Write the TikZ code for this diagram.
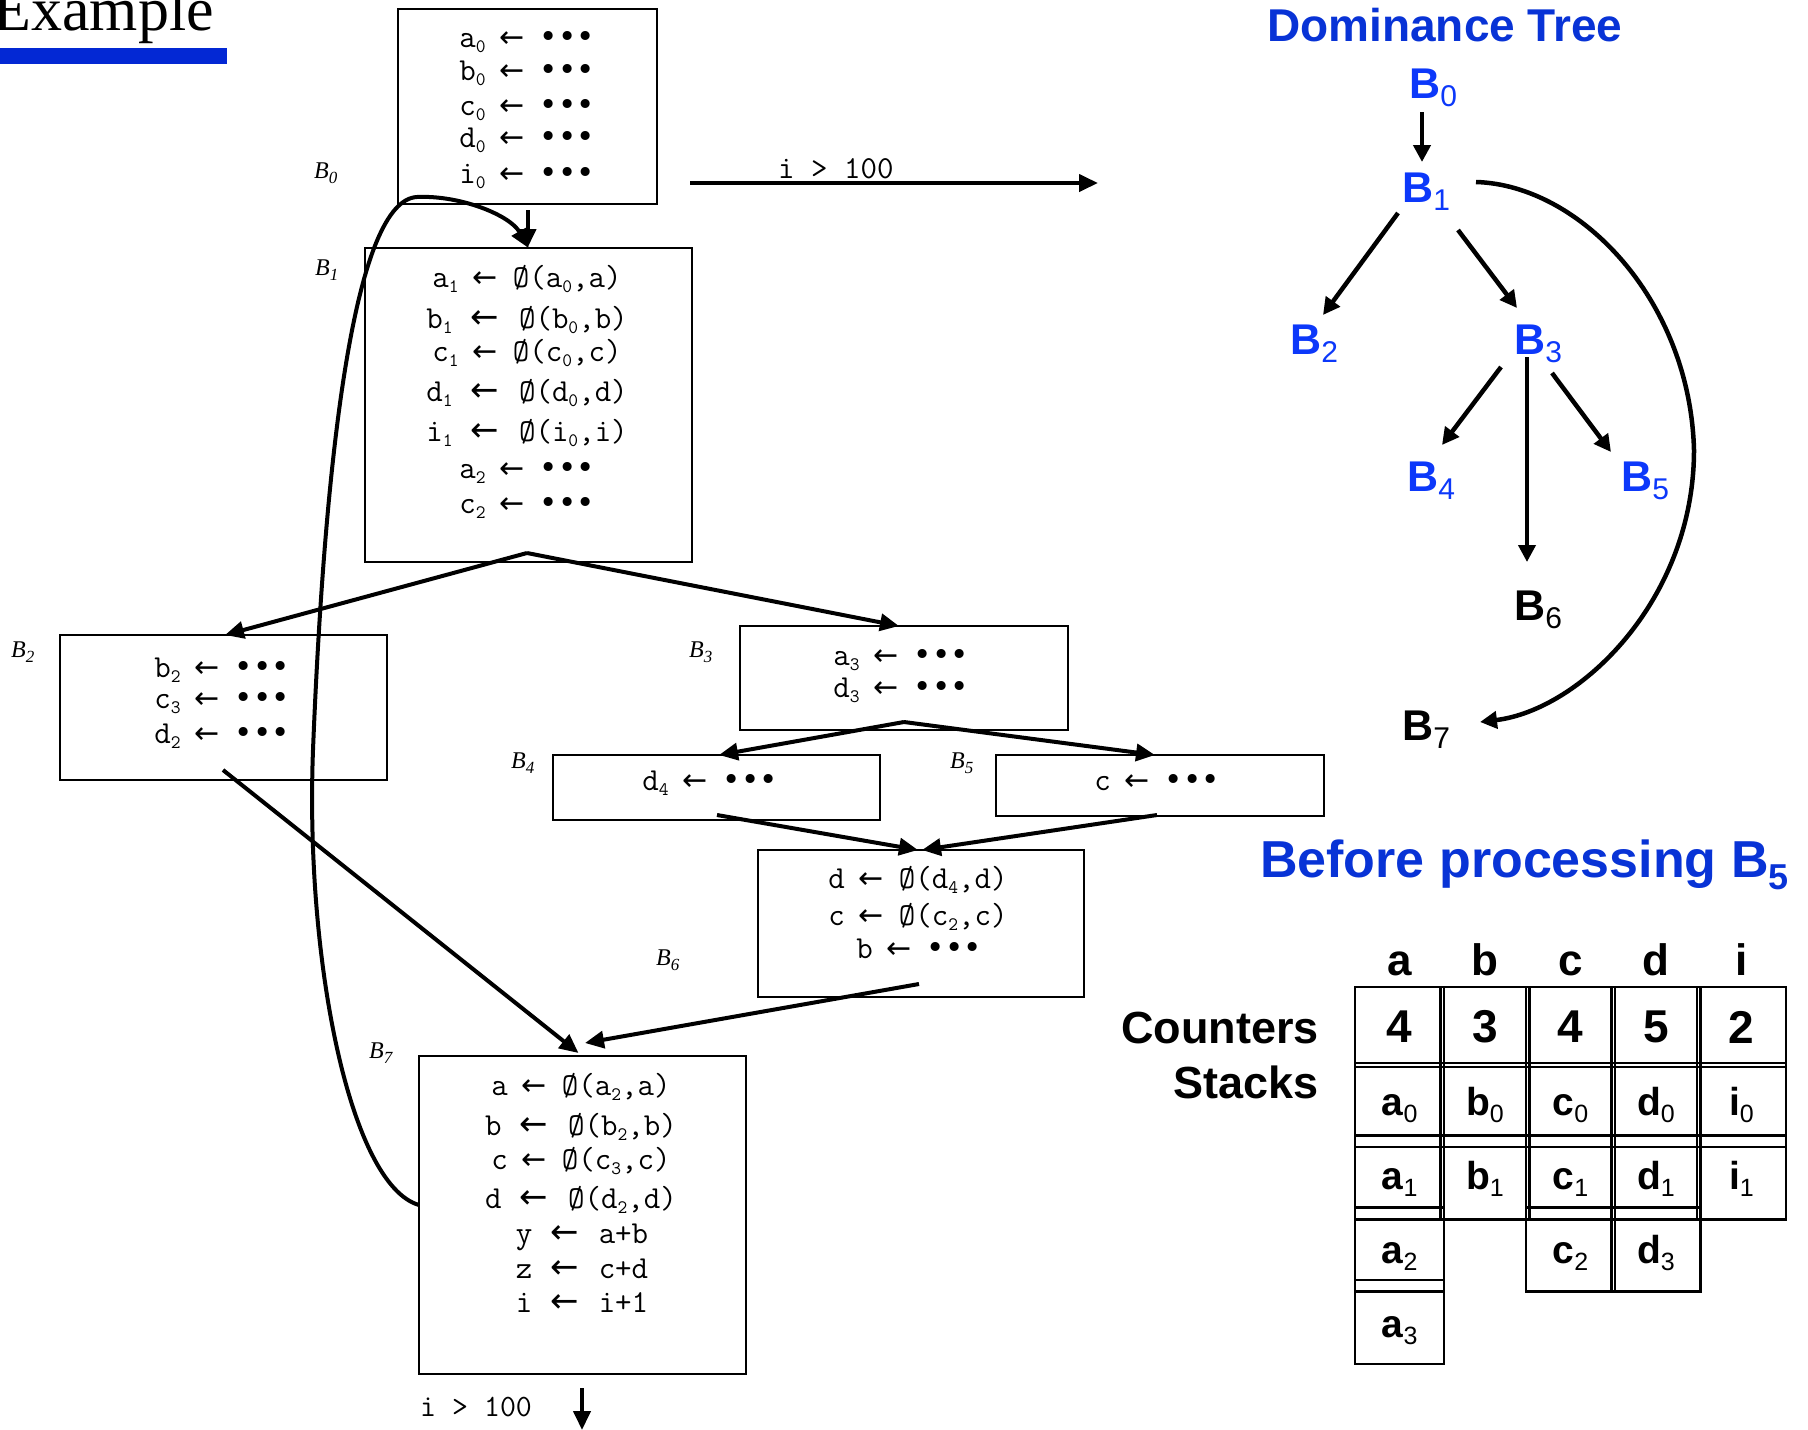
\documentclass[tikz,border=0pt]{standalone}
\usepackage{fontspec}
\setmainfont{Liberation Serif}
\setmonofont{Latin Modern Mono}
\newfontfamily\sansfont{Liberation Sans}
\newfontfamily\symfont{DejaVu Sans}
\usetikzlibrary{arrows.meta}

\definecolor{barblue}{RGB}{3,40,212}
\definecolor{headblue}{RGB}{8,51,214}
\definecolor{treeblue}{RGB}{12,56,250}

\newcommand\fsz[1]{\fontsize{#1}{#1}\selectfont}
% code lines: typewriter text, lowered small indices, arrows and dots
\newcommand\cfgix[1]{\raisebox{-5pt}{\fsz{19}#1}}
\newcommand\cfglar{{\symfont\fsz{30}←}}
\newcommand\cfgasg{\hspace{14pt}\cfglar\hspace{15pt}}
\newcommand\cfgasgw{\hspace{18pt}{\symfont\fsz{34}←}\hspace{20pt}}
\newcommand\cfgdots{{\symfont\fsz{31}•••}}
% italic block names beside the boxes
\newcommand\blkname[1]{\fsz{24}\itshape B\raisebox{-5pt}{\fsz{17}#1}}
% dominance tree names
\newcommand\dominame[1]{\sansfont\fsz{43}\textbf{B}\raisebox{-8pt}{\fsz{30}#1}}
% stack entries
\newcommand\stackent[2]{\sansfont\fsz{39}\textbf{#1}\raisebox{-7pt}{\fsz{25}#2}}

\tikzset{
  blockbox/.style={draw, line width=2.6pt, inner sep=0pt, outer sep=0pt},
  codeline/.style={anchor=base, inner sep=0pt, font=\ttfamily\fsz{32}},
  bname/.style={anchor=base west, inner sep=0pt},
  flow/.style={line width=4pt, -{Triangle[length=19pt,width=17pt]}},
  treearrow/.style={line width=4.5pt, -{Triangle[length=17pt,width=17pt]}},
  treename/.style={anchor=base west, inner sep=0pt},
  tcell/.style={draw, line width=2.8pt, minimum width=89pt, minimum height=84pt, inner sep=0pt},
  colhead/.style={anchor=base, inner sep=0pt, font=\sansfont\bfseries\fsz{44}},
}

\begin{document}
\begin{tikzpicture}[x=1pt,y=-1pt]
\useasboundingbox (0,0) rectangle (1808,1430);

% ---- heading ----
\node[anchor=base east, inner sep=0pt, font=\fsz{62}] (extitle) at (214,30) {Example};
\fill[barblue] (0,48) rectangle (227,64);

% ---- control flow graph: blocks ----
\node[blockbox, minimum width=259pt, minimum height=195pt] (b0) at (527.5,106.5) {};
\node[blockbox, minimum width=327pt, minimum height=314pt] (b1) at (528.5,405) {};
\node[blockbox, minimum width=327pt, minimum height=145pt] (b2) at (223.5,707.5) {};
\node[blockbox, minimum width=328pt, minimum height=104pt] (b3) at (904,678) {};
\node[blockbox, minimum width=327pt, minimum height=65pt] (b4) at (716.5,787.5) {};
\node[blockbox, minimum width=328pt, minimum height=61pt] (b5) at (1160,785.5) {};
\node[blockbox, minimum width=326pt, minimum height=147pt] (b6) at (921,923.5) {};
\node[blockbox, minimum width=327pt, minimum height=318pt] (b7) at (582.5,1215) {};

\node[bname] (n0) at (314,178) {\blkname{0}};
\node[bname] (n1) at (315,275) {\blkname{1}};
\node[bname] (n2) at (11,657) {\blkname{2}};
\node[bname] (n3) at (689,657) {\blkname{3}};
\node[bname] (n4) at (511,768) {\blkname{4}};
\node[bname] (n5) at (950,768) {\blkname{5}};
\node[bname] (n6) at (656,965) {\blkname{6}};
\node[bname] (n7) at (369,1058) {\blkname{7}};

% B0
\node[codeline] (b0l1) at (527,47)  {a\cfgix{0}\cfgasg\cfgdots};
\node[codeline] (b0l2) at (527,80)  {b\cfgix{0}\cfgasg\cfgdots};
\node[codeline] (b0l3) at (527,115) {c\cfgix{0}\cfgasg\cfgdots};
\node[codeline] (b0l4) at (527,147) {d\cfgix{0}\cfgasg\cfgdots};
\node[codeline] (b0l5) at (527,183) {i\cfgix{0}\cfgasg\cfgdots};
% B1
\node[codeline] (b1l1) at (527,287) {a\cfgix{1}\cfgasg Ø(a\cfgix{0},a)};
\node[codeline] (b1l2) at (527,328) {b\cfgix{1}\cfgasgw Ø(b\cfgix{0},b)};
\node[codeline] (b1l3) at (527,361) {c\cfgix{1}\cfgasg Ø(c\cfgix{0},c)};
\node[codeline] (b1l4) at (527,401) {d\cfgix{1}\cfgasgw Ø(d\cfgix{0},d)};
\node[codeline] (b1l5) at (527,441) {i\cfgix{1}\cfgasgw Ø(i\cfgix{0},i)};
\node[codeline] (b1l6) at (527,478) {a\cfgix{2}\cfgasg\cfgdots};
\node[codeline] (b1l7) at (527,513) {c\cfgix{2}\cfgasg\cfgdots};
% B2
\node[codeline] (b2l1) at (222,677) {b\cfgix{2}\cfgasg\cfgdots};
\node[codeline] (b2l2) at (222,708) {c\cfgix{3}\cfgasg\cfgdots};
\node[codeline] (b2l3) at (222,743) {d\cfgix{2}\cfgasg\cfgdots};
% B3, B4, B5
\node[codeline] (b3l1) at (901,665) {a\cfgix{3}\cfgasg\cfgdots};
\node[codeline] (b3l2) at (901,697) {d\cfgix{3}\cfgasg\cfgdots};
\node[codeline] (b4l1) at (710,790) {d\cfgix{4}\cfgasg\cfgdots};
\node[codeline] (b5l1) at (1157,790) {c\cfgasg\cfgdots};
% B6
\node[codeline] (b6l1) at (918,888) {d\cfgasg Ø(d\cfgix{4},d)};
\node[codeline] (b6l2) at (918,925) {c\cfgasg Ø(c\cfgix{2},c)};
\node[codeline] (b6l3) at (919,958) {b\cfgasg\cfgdots};
% B7
\node[codeline] (b7l1) at (581,1095) {a\cfgasg Ø(a\cfgix{2},a)};
\node[codeline] (b7l2) at (581,1135) {b\cfgasgw Ø(b\cfgix{2},b)};
\node[codeline] (b7l3) at (581,1169) {c\cfgasg Ø(c\cfgix{3},c)};
\node[codeline] (b7l4) at (581,1208) {d\cfgasgw Ø(d\cfgix{2},d)};
\node[codeline] (b7l5) at (582,1243) {y\cfgasgw a+b};
\node[codeline] (b7l6) at (582,1278) {z\cfgasgw c+d};
\node[codeline] (b7l7) at (582,1312) {i\cfgasgw i+1};

% ---- control flow graph: edges ----
\draw[flow] ([yshift=-6pt]b0.south) -- (b0.south |- b1.north);
\coordinate (x0a) at (690,183);
\coordinate (x0b) at (1098,183);
\draw[flow] (x0a) -- (x0b);
\node[codeline, anchor=base west, font=\ttfamily\fsz{32}] (exit0) at (778,178) {i > 100};

\coordinate (b1o) at (527,553);
\draw[flow] (b1o) -- ([xshift=1.5pt]b2.north);
\draw[flow] (b1o) -- ([xshift=-5pt]b3.north);
\coordinate (b3o) at (904,722);
\draw[flow] (b3o) -- ([xshift=2.5pt]b4.north);
\draw[flow] (b3o) -- ([xshift=-5pt]b5.north);
\coordinate (b4o) at (717,815);
\coordinate (b5o) at (1157,815);
\draw[flow] (b4o) -- ([xshift=-3pt]b6.north);
\draw[flow] (b5o) -- ([xshift=1pt]b6.north);
\coordinate (b6o) at (919,984);
\draw[flow] (b6o) -- ([xshift=2.5pt,yshift=13pt]b7.north);
\coordinate (b2o) at (223,770);
\draw[flow] (b2o) -- ([xshift=-4pt,yshift=3pt]b7.north);
% loop edge from B7 back to B1
\draw[flow] ([yshift=10pt]b7.west) .. controls (350,1185) and (305,960) .. (313,750)
  .. controls (325,450) and (355,200) .. (417,197)
  .. controls (460,195) and (510,215) .. (b1.north);

\coordinate (x7a) at (582,1388);
\coordinate (x7b) at (582,1430);
\draw[flow] (x7a) -- (x7b);
\node[codeline, anchor=base west, font=\ttfamily\fsz{31}] (exit7) at (420,1416) {i > 100};

% ---- dominance tree ----
\node[anchor=base west, inner sep=0pt, text=headblue, font=\sansfont\bfseries\fsz{46}] (dtitle) at (1267,41) {Dominance Tree};
\node[treename, text=treeblue] (t0) at (1409,98)  {\dominame{0}};
\node[treename, text=treeblue] (t1) at (1402,202) {\dominame{1}};
\node[treename, text=treeblue] (t2) at (1290,354) {\dominame{2}};
\node[treename, text=treeblue] (t3) at (1514,354) {\dominame{3}};
\node[treename, text=treeblue] (t4) at (1407,491) {\dominame{4}};
\node[treename, text=treeblue] (t5) at (1621,491) {\dominame{5}};
\node[treename] (t6) at (1514,620) {\dominame{6}};
\node[treename] (t7) at (1402,740) {\dominame{7}};

\coordinate (e01a) at (1422,112); \coordinate (e01b) at (1422,162);
\coordinate (e12a) at (1398,213); \coordinate (e12b) at (1323,315);
\coordinate (e13a) at (1458,230); \coordinate (e13b) at (1517,308);
\coordinate (e34a) at (1501,367); \coordinate (e34b) at (1442,445);
\coordinate (e36a) at (1527,357); \coordinate (e36b) at (1527,562);
\coordinate (e35a) at (1552,373); \coordinate (e35b) at (1611,452);
\coordinate (e17a) at (1476,182); \coordinate (e17b) at (1480,722);
\draw[treearrow] (e01a) -- (e01b);
\draw[treearrow] (e12a) -- (e12b);
\draw[treearrow] (e13a) -- (e13b);
\draw[treearrow] (e34a) -- (e34b);
\draw[treearrow, line width=4pt] (e36a) -- (e36b);
\draw[treearrow] (e35a) -- (e35b);
\draw[treearrow] (e17a) .. controls (1580,185) and (1690,300) .. (1694,450)
  .. controls (1694,600) and (1580,710) .. (e17b);

% ---- counters and stacks ----
\node[anchor=base west, inner sep=0pt, text=headblue, font=\sansfont\bfseries\fsz{52}] (ptitle) at (1260,877)
  {Before processing B\raisebox{-12pt}{\fsz{36}5}};
\node[anchor=base east, inner sep=0pt, font=\sansfont\bfseries\fsz{45}] (lcount) at (1319,1043) {Counters};
\node[anchor=base east, inner sep=0pt, font=\sansfont\bfseries\fsz{45}] (lstack) at (1319,1098) {Stacks};

\foreach \v/\cnt [count=\k from 0] in {a/4,b/3,c/4,d/5,i/2} {
  \pgfmathsetmacro\cx{1399.5+85.5*\k}
  \node[colhead] (h\v) at (\cx,975) {\v};
  \node[tcell, minimum height=80pt, font=\sansfont\bfseries\fsz{46}] (cnt\v) at (\cx,1027) {\cnt};
}
\foreach \k/\r/\v/\n in {0/0/a/0,1/0/b/0,2/0/c/0,3/0/d/0,4/0/i/0,
                         0/1/a/1,1/1/b/1,2/1/c/1,3/1/d/1,4/1/i/1,
                         0/2/a/2,2/2/c/2,3/2/d/3,
                         0/3/a/3} {
  \pgfmathsetmacro\cx{1399.5+85.5*\k}
  \pgfmathsetmacro\cy{1105+72.3*\r}
  \pgfmathsetmacro\by{1115+74.3*\r}
  \node[tcell] (s\k\r) at (\cx,\cy) {};
  \node[anchor=base, inner sep=0pt] (st\k\r) at (\cx,\by) {\stackent{\v}{\n}};
}
\end{tikzpicture}
\end{document}
